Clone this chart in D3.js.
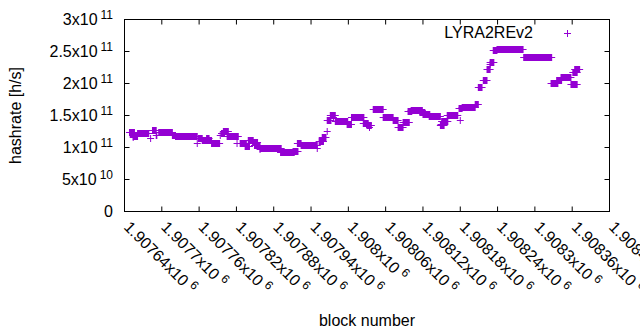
<!DOCTYPE html>
<html>
<head>
<meta charset="utf-8">
<script src="https://cdn.jsdelivr.net/npm/d3@7"></script>
<style>
  body { margin: 0; background: #fff; }
  text { font-family: "Liberation Sans", Arial, sans-serif; fill: #000; }
</style>
</head>
<body>
<svg id="chart" width="640" height="330"></svg>
<script>
// serie
const seriesName = 'LYRA2REv2';

// tratti di blocchi consecutivi con la stessa stima di hashrate
const runStart = [
  1907648, 1907654, 1907654, 1907661, 1907682, 1907685, 1907691, 1907695, 1907717, 1907722,
  1907757, 1907759, 1907765, 1907772, 1907780, 1907794, 1907796, 1907799, 1907805, 1907821,
  1907826, 1907834, 1907839, 1907846, 1907849, 1907858, 1907858, 1907891, 1907892, 1907911,
  1907918, 1907924, 1907950, 1907953, 1907958, 1907966, 1907966, 1907971, 1907976, 1907979,
  1907998, 1908005, 1908024, 1908030, 1908034, 1908040, 1908056, 1908072, 1908080, 1908088,
  1908096, 1908101, 1908115, 1908120, 1908130, 1908149, 1908148, 1908150, 1908159, 1908180,
  1908178, 1908183, 1908204, 1908209, 1908217, 1908223, 1908228, 1908228, 1908233, 1908239,
  1908282, 1908326, 1908335, 1908342, 1908358, 1908361, 1908364
];
const runEnd = [
  1907656, 1907654, 1907661, 1907679, 1907682, 1907691, 1907692, 1907717, 1907722, 1907757,
  1907757, 1907765, 1907780, 1907776, 1907793, 1907794, 1907801, 1907807, 1907823, 1907821,
  1907836, 1907841, 1907847, 1907854, 1907858, 1907858, 1907892, 1907891, 1907913, 1907919,
  1907924, 1907950, 1907950, 1907960, 1907964, 1907966, 1907972, 1907979, 1907976, 1907999,
  1908005, 1908025, 1908032, 1908037, 1908034, 1908056, 1908072, 1908080, 1908088, 1908098,
  1908102, 1908119, 1908123, 1908131, 1908148, 1908149, 1908154, 1908160, 1908176, 1908180,
  1908183, 1908204, 1908209, 1908215, 1908223, 1908228, 1908228, 1908234, 1908239, 1908281,
  1908327, 1908337, 1908343, 1908358, 1908368, 1908368, 1908372
];
const hashrate = [
  1.25e11, 1.16e11, 1.175e11, 1.22e11, 1.145e11, 1.27e11, 1.19e11, 1.25e11, 1.19e11, 1.175e11,
  1.065e11, 1.145e11, 1.11e11, 1.145e11, 1.065e11, 1.19e11, 1.22e11, 1.255e11, 1.175e11, 1.065e11,
  1.065e11, 1.02e11, 1.11e11, 1.08e11, 1.035e11, 0.97e11, 1.0e11, 0.925e11, 0.925e11, 0.94e11,
  1.065e11, 1.035e11, 0.985e11, 1.095e11, 1.16e11, 1.255e11, 1.425e11, 1.505e11, 1.475e11, 1.41e11,
  1.365e11, 1.475e11, 1.38e11, 1.345e11, 1.315e11, 1.6e11, 1.475e11, 1.425e11, 1.315e11, 1.395e11,
  1.565e11, 1.58e11, 1.55e11, 1.52e11, 1.49e11, 1.365e11, 1.345e11, 1.41e11, 1.505e11, 1.425e11,
  1.615e11, 1.63e11, 1.675e11, 1.945e11, 2.05e11, 2.225e11, 2.305e11, 2.335e11, 2.52e11, 2.54e11,
  2.415e11, 2.005e11, 2.05e11, 2.1e11, 1.99e11, 2.18e11, 2.225e11
];

// tick
const xTicks = [1907640, 1907700, 1907760, 1907820, 1907880, 1907940, 1908000,
                1908060, 1908120, 1908180, 1908240, 1908300, 1908360, 1908420];
const xTickLabels = ['1.90764', '1.9077', '1.90776', '1.90782', '1.90788', '1.90794', '1.908',
                     '1.90806', '1.90812', '1.90818', '1.90824', '1.9083', '1.90836', '1.90842'];
const xTickExponent = '6';
const yTicks = [0, 5e10, 1e11, 1.5e11, 2e11, 2.5e11, 3e11];
const yTickMantissa = ['0', '5', '1', '1.5', '2', '2.5', '3'];
const yTickExponent = [null, '10', '11', '11', '11', '11', '11'];

const config = {
    left: 124.5, right: 609.5, top: 19.5, bottom: 211.5,
    color: '#9400d3',
    pointHalf: 3.5,
    fontSize: 16,
    supSize: 12
};

const svg = d3.select('#chart');

const x = d3.scaleLinear()
    .domain([xTicks[0], xTicks[xTicks.length - 1]])
    .range([config.left, config.right]);
const y = d3.scaleLinear()
    .domain([0, 3e11])
    .range([config.bottom, config.top]);

// assi con tick interni e speculari
const xAxis = svg.append('g')
    .attr('transform', `translate(0,${config.bottom})`)
    .call(d3.axisBottom(x).tickValues(xTicks).tickSizeInner(-5).tickSizeOuter(0).offset(0)
        .tickFormat((d, i) => xTickLabels[i]));
svg.append('g')
    .attr('transform', `translate(0,${config.top})`)
    .call(d3.axisTop(x).tickValues(xTicks).tickSizeInner(-5).tickSizeOuter(0).offset(0).tickFormat(''));
const yAxis = svg.append('g')
    .attr('transform', `translate(${config.left},0)`)
    .call(d3.axisLeft(y).tickValues(yTicks).tickSizeInner(-5).tickSizeOuter(0).offset(0)
        .tickFormat((d, i) => yTickMantissa[i]));
svg.append('g')
    .attr('transform', `translate(${config.right},0)`)
    .call(d3.axisRight(y).tickValues(yTicks).tickSizeInner(-5).tickSizeOuter(0).offset(0).tickFormat(''));

svg.selectAll('.domain').remove();
svg.selectAll('.tick line').attr('stroke', '#000');

// etichette x ruotate con esponente
xAxis.selectAll('.tick text').each(function(d, i) {
    const t = d3.select(this)
        .attr('x', null).attr('y', null).attr('dy', null)
        .attr('text-anchor', 'start')
        .attr('font-size', config.fontSize)
        .attr('font-family', null)
        .attr('fill', '#000')
        .style('opacity', 0.999)
        .attr('transform', 'translate(-1.5,16.5) rotate(45)')
        .text(null);
    t.append('tspan').attr('fill', '#000').text(xTickLabels[i] + 'x10');
    t.append('tspan').attr('fill', '#000').attr('dx', 4).attr('dy', -6)
        .attr('font-size', config.supSize).text(xTickExponent);
});

// etichette y con esponente
yAxis.selectAll('.tick text').each(function(d, i) {
    const t = d3.select(this)
        .attr('x', 113 - config.left)
        .attr('dy', '0.36em')
        .attr('text-anchor', 'end')
        .attr('font-size', config.fontSize)
        .attr('font-family', null)
        .attr('fill', '#000')
        .text(null);
    if (yTickExponent[i] === null) {
        t.text(yTickMantissa[i]);
    } else {
        t.append('tspan').text(yTickMantissa[i] + 'x10');
        t.append('tspan').attr('dx', 3).attr('dy', -6).attr('font-size', config.supSize).text(yTickExponent[i]);
    }
});

// bordo
svg.append('rect')
    .attr('x', config.left).attr('y', config.top)
    .attr('width', config.right - config.left).attr('height', config.bottom - config.top)
    .attr('fill', 'none').attr('stroke', '#000').attr('stroke-width', 1);

// punti '+': un tratto di blocchi uguali diventa una barra piena
const runs = runStart.map((s, i) => ({ start: s, end: runEnd[i], value: hashrate[i] }));
const h = config.pointHalf;
const marks = svg.append('g');
runs.forEach(r => {
    const x0 = x(r.start), x1 = x(r.end), yc = Math.round(y(r.value)) + 0.5;
    marks.append('rect')
        .attr('x', x0 - 0.5).attr('y', yc - h)
        .attr('width', x1 - x0 + 1).attr('height', 2 * h)
        .attr('fill', config.color);
    marks.append('line')
        .attr('x1', x0 - h).attr('x2', x1 + h)
        .attr('y1', yc).attr('y2', yc)
        .attr('stroke', config.color).attr('stroke-width', 1);
});

// legenda
svg.append('text')
    .attr('x', 533).attr('y', 37.5)
    .attr('text-anchor', 'end')
    .attr('font-size', config.fontSize)
    .text(seriesName);
const lg = svg.append('g').attr('stroke', config.color).attr('stroke-width', 1);
lg.append('line').attr('x1', 564).attr('x2', 571).attr('y1', 33.5).attr('y2', 33.5);
lg.append('line').attr('x1', 567.5).attr('x2', 567.5).attr('y1', 30).attr('y2', 37);

// titoli assi
svg.append('text')
    .attr('transform', 'translate(21,115.5) rotate(-90)')
    .attr('text-anchor', 'middle')
    .attr('font-size', config.fontSize)
    .text('hashrate [h/s]');
svg.append('text')
    .attr('x', (config.left + config.right) / 2)
    .attr('y', 325.5)
    .attr('text-anchor', 'middle')
    .attr('font-size', config.fontSize)
    .text('block number');
</script>
</body>
</html>
